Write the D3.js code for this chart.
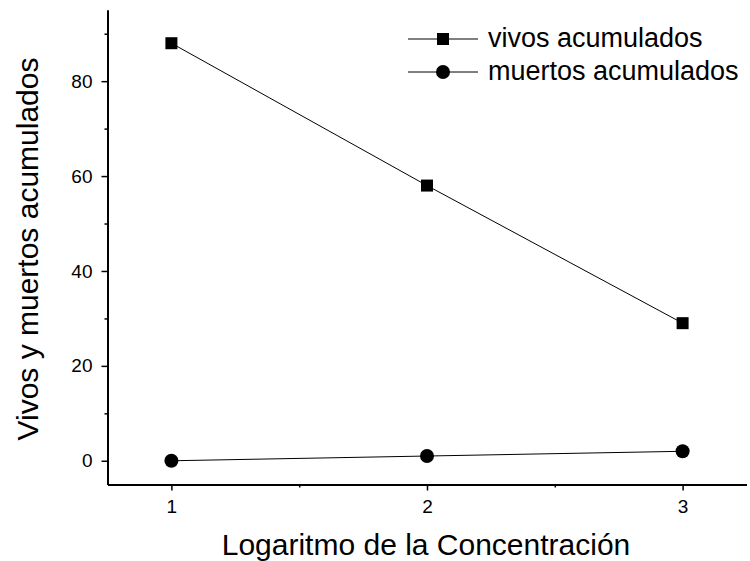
<!DOCTYPE html>
<html>
<script src='https://d3js.org/d3.v7.min.js'></script>
<style>
body { margin:0; background:#fff; }
text { font-family: "Liberation Sans", Arial, sans-serif; }
</style>
<body>
<script>
var xValues = [1, 2, 3];
var vivos = [88, 58, 29];
var muertos = [0, 1, 2];
var xTicks = [1, 2, 3];
var xMinor = [1.5, 2.5];
var yTicks = [0, 20, 40, 60, 80];
var yMinor = [10, 30, 50, 70, 90];
var seriesNames = ["vivos acumulados", "muertos acumulados"];

var width = 750, height = 561;
var plotLeft = 107.5, plotRight = 746.5, plotTop = 10, plotBottom = 484.5;

var svg = d3.select("body").append("svg")
	.attr("width", width)
	.attr("height", height);

var x = d3.scaleLinear().domain([0.75, 3.25]).range([plotLeft, plotRight]);
var y = d3.scaleLinear().domain([-5, 95]).range([plotBottom, plotTop]);

var line = d3.line()
	.x(function(d) { return x(d[0]); })
	.y(function(d) { return y(d[1]); });

// lines
svg.append("path")
	.datum(xValues.map(function(v,i) { return [v, vivos[i]]; }))
	.attr("d", line)
	.attr("fill", "none")
	.attr("stroke", "black")
	.attr("stroke-width", 1);
svg.append("path")
	.datum(xValues.map(function(v,i) { return [v, muertos[i]]; }))
	.attr("d", line)
	.attr("fill", "none")
	.attr("stroke", "black")
	.attr("stroke-width", 1);

// markers
svg.selectAll("rect.viv")
	.data(xValues)
	.enter().append("rect")
	.attr("x", function(d) { return x(d) - 6; })
	.attr("y", function(d,i) { return y(vivos[i]) - 6; })
	.attr("width", 12)
	.attr("height", 12)
	.attr("fill", "black");
svg.selectAll("circle.mue")
	.data(xValues)
	.enter().append("circle")
	.attr("cx", function(d) { return x(d); })
	.attr("cy", function(d,i) { return y(muertos[i]); })
	.attr("r", 7)
	.attr("fill", "black");

// axes
svg.append("g")
	.attr("transform", "translate(" + plotLeft + ",0)")
	.call(d3.axisLeft(y).tickValues(yTicks).tickFormat(d3.format("d")).tickSize(6).tickPadding(9).tickSizeOuter(0));
svg.append("g")
	.attr("transform", "translate(" + plotLeft + ",0)")
	.call(d3.axisLeft(y).tickValues(yMinor).tickSize(3).tickFormat("").tickSizeOuter(0));
svg.append("g")
	.attr("transform", "translate(0," + plotBottom + ")")
	.call(d3.axisBottom(x).tickValues(xTicks).tickFormat(d3.format("d")).tickSize(6).tickPadding(9).tickSizeOuter(0));
svg.append("g")
	.attr("transform", "translate(0," + plotBottom + ")")
	.call(d3.axisBottom(x).tickValues(xMinor).tickSize(3).tickFormat("").tickSizeOuter(0));

svg.selectAll("g").attr("font-size", 19).attr("font-family", "Liberation Sans, Arial, sans-serif");
svg.selectAll(".domain").attr("stroke-width", 2);
svg.selectAll(".tick line").attr("stroke-width", 1.5);
svg.selectAll(".tick text")
	.attr("font-size", 19)
	.attr("fill", "black");

// axis titles
svg.append("text")
	.attr("transform", "translate(38,249) rotate(-90)")
	.attr("text-anchor", "middle")
	.attr("font-size", 30)
	.text("Vivos y muertos acumulados");
svg.append("text")
	.attr("x", (plotLeft + plotRight) / 2 - 1)
	.attr("y", 555)
	.attr("text-anchor", "middle")
	.attr("font-size", 30)
	.text("Logaritmo de la Concentración");

// legend
var legend = svg.append("g");
[0, 1].forEach(function(i) {
	var ly = 39 + i * 33;
	legend.append("line")
		.attr("x1", 408).attr("x2", 478)
		.attr("y1", ly).attr("y2", ly)
		.attr("stroke", "black").attr("stroke-width", 1);
	if (i == 0) {
		legend.append("rect")
			.attr("x", 437).attr("y", ly - 6)
			.attr("width", 12).attr("height", 12)
			.attr("fill", "black");
	} else {
		legend.append("circle")
			.attr("cx", 443).attr("cy", ly)
			.attr("r", 7).attr("fill", "black");
	}
	legend.append("text")
		.attr("x", 488).attr("y", ly + 8)
		.attr("font-size", 27)
		.text(seriesNames[i]);
});
</script>
</body>
</html>
